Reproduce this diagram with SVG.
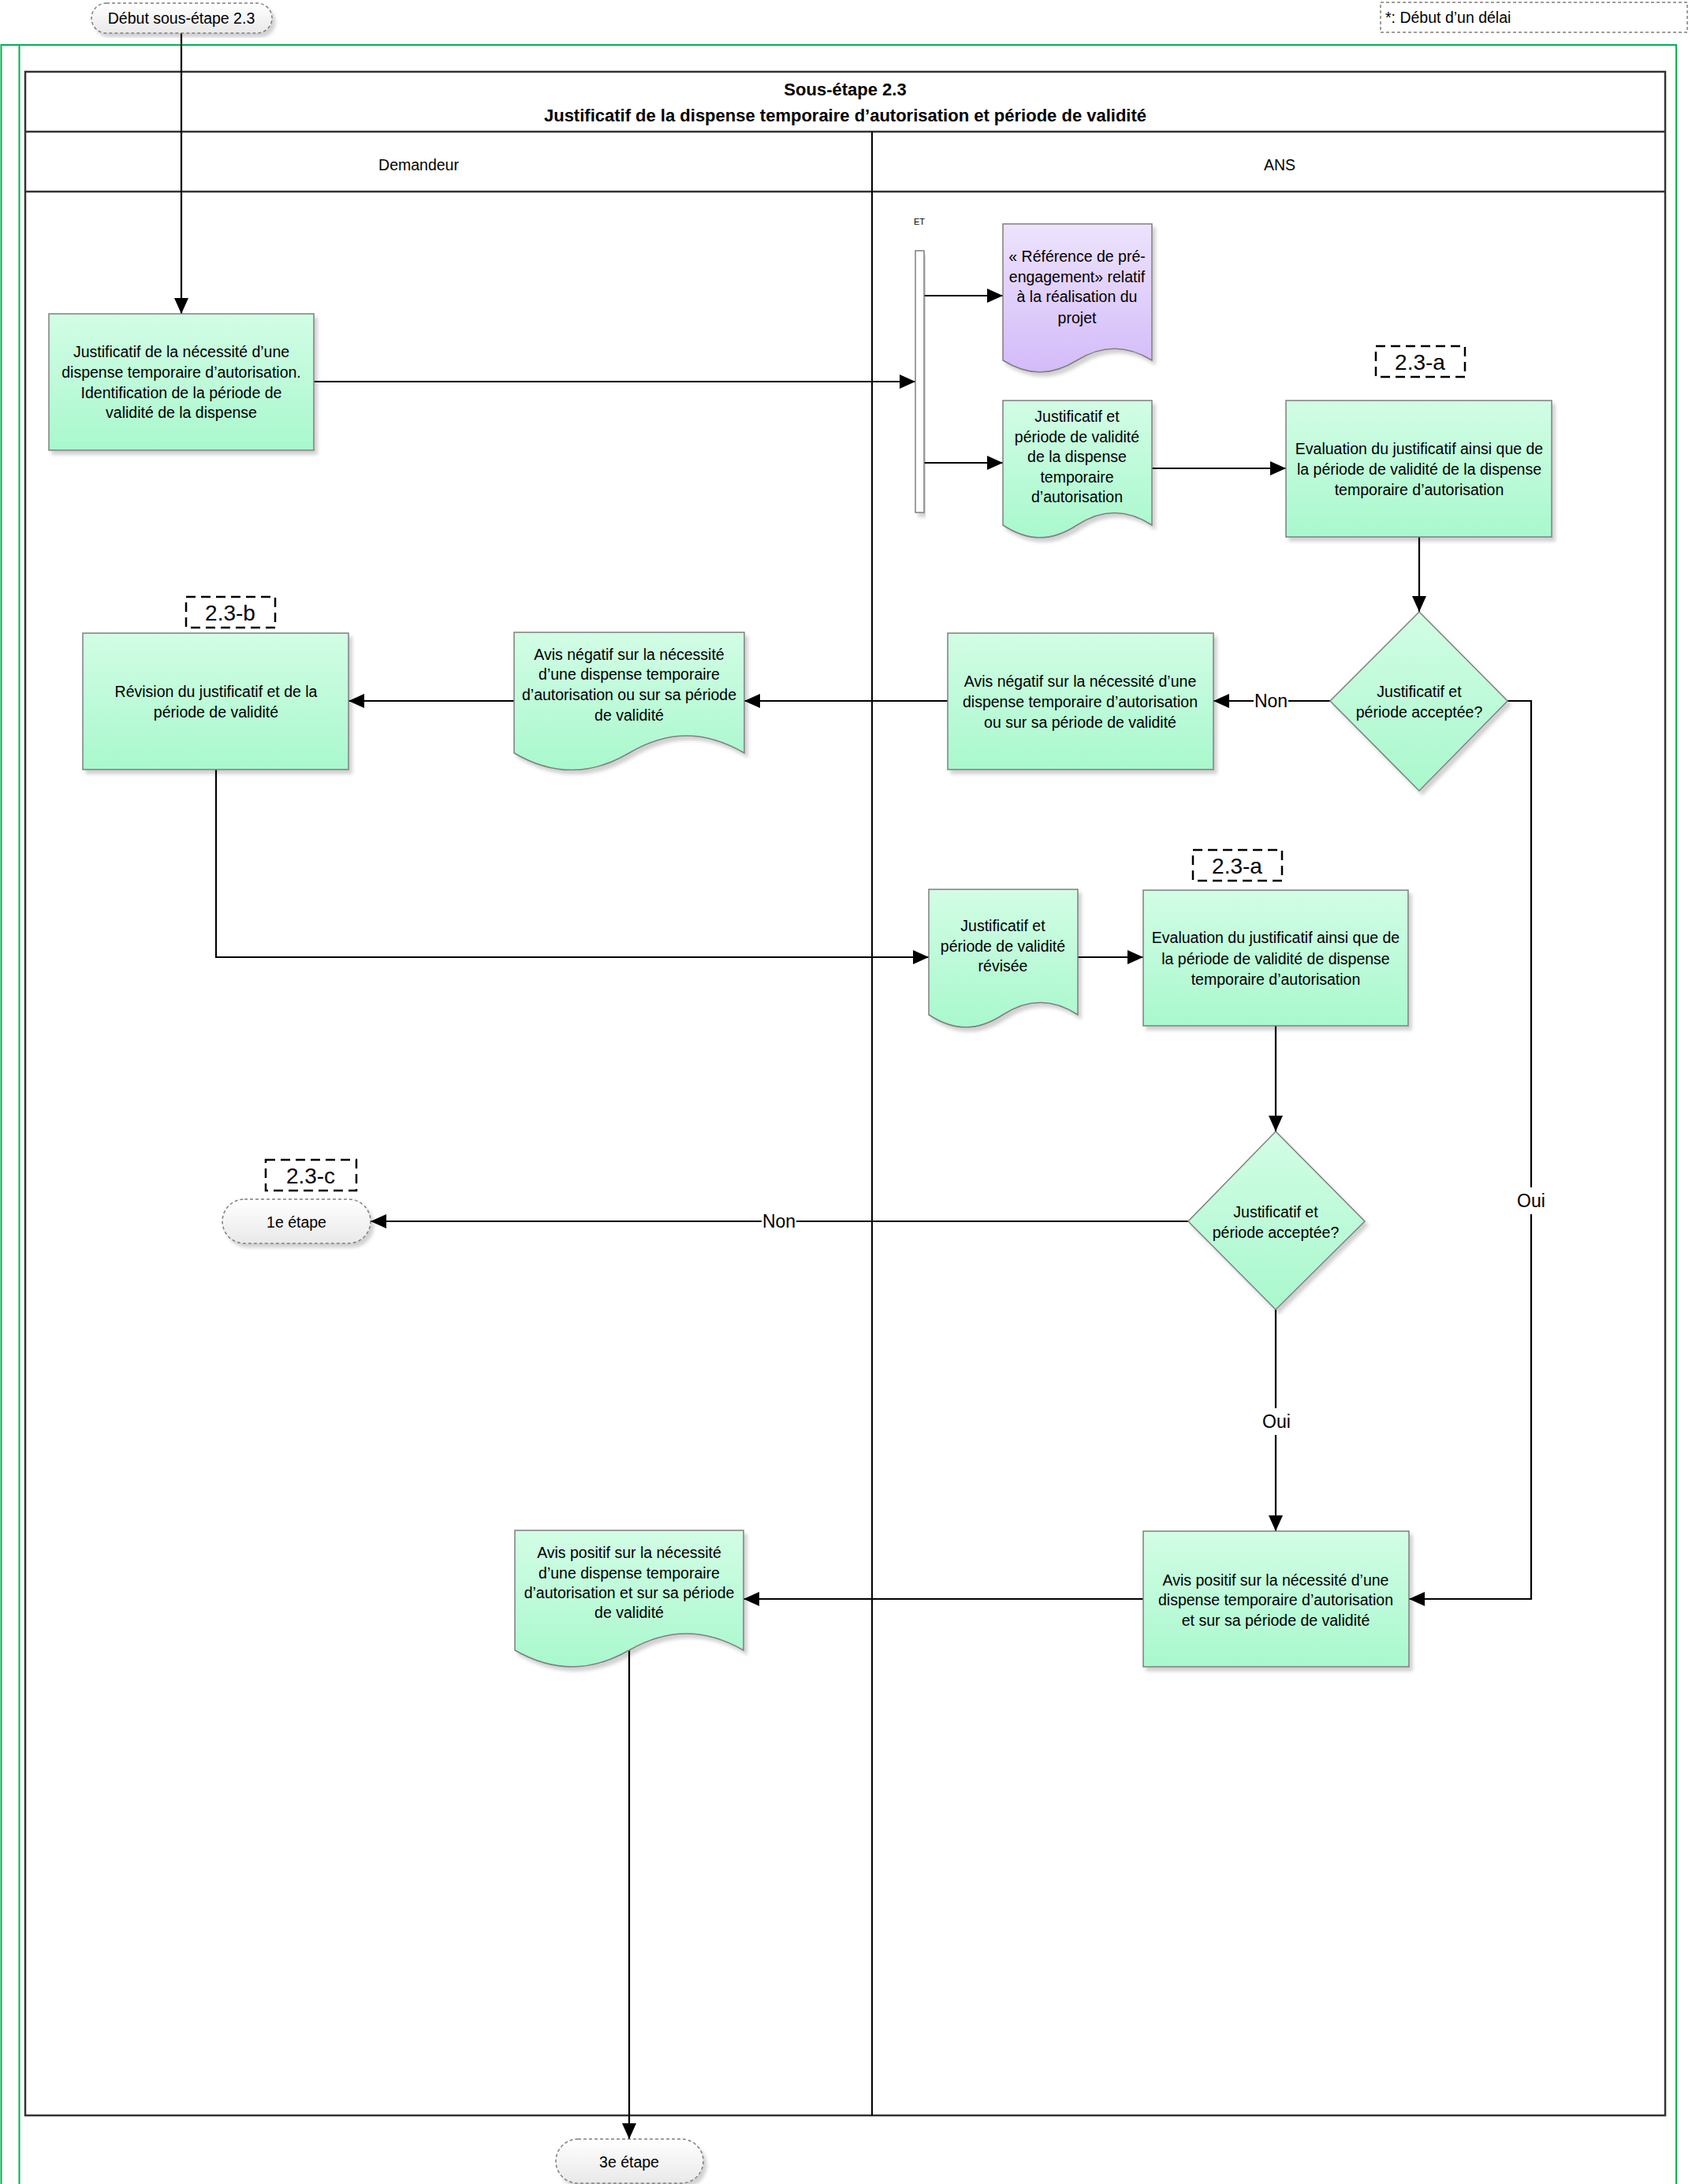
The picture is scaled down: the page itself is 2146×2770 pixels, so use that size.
<svg xmlns="http://www.w3.org/2000/svg" width="2146" height="2770" viewBox="0 0 2146 2770">
<defs>
<linearGradient id="gG" x1="0" y1="0" x2="0" y2="1"><stop offset="0" stop-color="#d2fde5"/><stop offset="1" stop-color="#a9f8cd"/></linearGradient>
<linearGradient id="gP" x1="0" y1="0" x2="0" y2="1"><stop offset="0" stop-color="#ede3fd"/><stop offset="1" stop-color="#d3bbf9"/></linearGradient>
<linearGradient id="gW" x1="0" y1="0" x2="0" y2="1"><stop offset="0" stop-color="#ffffff"/><stop offset="1" stop-color="#e9e9e9"/></linearGradient>
<filter id="sh" x="-10%" y="-10%" width="125%" height="125%"><feDropShadow dx="4" dy="5" stdDeviation="2" flood-color="#000" flood-opacity="0.18"/></filter>
<marker id="ah" viewBox="0 0 20 18" refX="20" refY="9" markerWidth="20" markerHeight="18" markerUnits="userSpaceOnUse" orient="auto"><path d="M0,0 L20,9 L0,18 z" fill="#000"/></marker>
<style>
text{font-family:'Liberation Sans',Arial,sans-serif;fill:#000}
.n{font-size:19.5px;text-anchor:middle}
.t{font-size:22px;font-weight:bold;text-anchor:middle}
.g{fill:url(#gG);stroke:#7f7f7f;stroke-width:1.5;filter:url(#sh)}
.pu{fill:url(#gP);stroke:#7f7f7f;stroke-width:1.5;filter:url(#sh)}
.pill{fill:url(#gW);stroke:#7f7f7f;stroke-width:1.5;stroke-dasharray:4 3;filter:url(#sh)}
.lbl{fill:#fff;stroke:#000;stroke-width:2.5;stroke-dasharray:12 7}
.lt{font-size:28px;text-anchor:middle}
.c{fill:none;stroke:#000;stroke-width:2.2;marker-end:url(#ah)}
.cl{font-size:23px;text-anchor:middle}
.pool{fill:none;stroke:#333;stroke-width:2.5}
.fr{fill:none;stroke:#00b050;stroke-width:2}
</style>
</defs>

<g id="frame">
<rect class="fr" x="1.5" y="57" width="2124.5" height="2760"/>
<line class="fr" x1="24.5" y1="57" x2="24.5" y2="2770"/>
</g>

<g id="pool">
<rect class="pool" x="32" y="91" width="2080" height="2592"/>
<line class="pool" x1="32" y1="167" x2="2112" y2="167"/>
<line class="pool" x1="32" y1="243" x2="2112" y2="243"/>
<line x1="1106" y1="167" x2="1106" y2="2683" stroke="#000" stroke-width="2"/>
<text class="t" x="1072" y="121">Sous-étape 2.3</text>
<text class="t" x="1072" y="154">Justificatif de la dispense temporaire d’autorisation et période de validité</text>
<text class="n" x="531" y="216">Demandeur</text>
<text class="n" x="1623" y="216">ANS</text>
</g>

<g id="legend">
<rect x="1751" y="3" width="389" height="38" fill="#fff" stroke="#7f7f7f" stroke-width="1.5" stroke-dasharray="4 3"/>
<text x="1757" y="29" style="font-size:19.5px">*: Début d’un délai</text>
</g>

<g id="connectors">
<path class="c" d="M230,42 V398"/>
<path class="c" d="M398,484 H1161"/>
<path class="c" d="M1172,375 H1272"/>
<path class="c" d="M1172,587 H1272"/>
<path class="c" d="M1461,594 H1631"/>
<path class="c" d="M1800,681 V776"/>
<path class="c" d="M1687,889 H1539"/>
<path class="c" d="M1202,889 H944"/>
<path class="c" d="M652,889 H442"/>
<path class="c" d="M274,976 V1214 H1178"/>
<path class="c" d="M1367,1214 H1450"/>
<path class="c" d="M1618,1301 V1435"/>
<path class="c" d="M1507,1549 H470"/>
<path class="c" d="M1618,1661 V1942"/>
<path class="c" d="M1912,889 H1942 V2028 H1787"/>
<path class="c" d="M1450,2028 H943"/>
<path class="c" d="M798,2093 V2713"/>
<rect x="1590" y="877" width="44" height="24" fill="#fff"/>
<text class="cl" x="1612" y="897">Non</text>
<rect x="966" y="1537" width="44" height="24" fill="#fff"/>
<text class="cl" x="988" y="1557">Non</text>
<rect x="1599" y="1786" width="40" height="34" fill="#fff"/>
<text class="cl" x="1619" y="1811">Oui</text>
<rect x="1922" y="1506" width="40" height="34" fill="#fff"/>
<text class="cl" x="1942" y="1531">Oui</text>
</g>

<g id="start">
<rect class="pill" x="116" y="4" width="229" height="38" rx="19"/>
<text class="n" x="230" y="30">Début sous-étape 2.3</text>
</g>

<g id="n_justif">
<rect class="g" x="62" y="398" width="336" height="173"/>
<text class="n"><tspan x="230" y="453">Justificatif de la nécessité d’une</tspan><tspan x="230" y="479">dispense temporaire d’autorisation.</tspan><tspan x="230" y="505">Identification de la période de</tspan><tspan x="230" y="530">validité de la dispense</tspan></text>
</g>

<g id="n_et">
<rect x="1161" y="318" width="11" height="332" fill="#fff" stroke="#7f7f7f" stroke-width="1.5" filter="url(#sh)"/>
<text x="1166" y="285" style="font-size:11px;text-anchor:middle">ET</text>
</g>

<g id="n_ref">
<path class="pu" d="M1272,284 H1461 V457 C1429,437 1398,437 1366,457 C1334,477 1304,477 1272,457 Z"/>
<text class="n"><tspan x="1366" y="332">« Référence de pré-</tspan><tspan x="1366" y="358">engagement» relatif</tspan><tspan x="1366" y="383">à la réalisation du</tspan><tspan x="1366" y="410">projet</tspan></text>
</g>

<g id="n_doc1">
<path class="g" d="M1272,508 H1461 V666 C1429,645 1398,645 1366,666 C1334,687 1304,687 1272,666 Z"/>
<text class="n"><tspan x="1366" y="535">Justificatif et</tspan><tspan x="1366" y="561">période de validité</tspan><tspan x="1366" y="586">de la dispense</tspan><tspan x="1366" y="612">temporaire</tspan><tspan x="1366" y="637">d’autorisation</tspan></text>
</g>

<g id="lbl_a1">
<rect class="lbl" x="1745" y="439" width="113" height="39"/>
<text class="lt" x="1801" y="469">2.3-a</text>
</g>

<g id="n_eval1">
<rect class="g" x="1631" y="508" width="337" height="173"/>
<text class="n"><tspan x="1800" y="576">Evaluation du justificatif ainsi que de</tspan><tspan x="1800" y="602">la période de validité de la dispense</tspan><tspan x="1800" y="628">temporaire d’autorisation</tspan></text>
</g>

<g id="n_dec1">
<path class="g" d="M1800,776 L1912,889 L1800,1003 L1687,889 Z"/>
<text class="n"><tspan x="1800" y="884">Justificatif et</tspan><tspan x="1800" y="910">période acceptée?</tspan></text>
</g>

<g id="n_neg_ans">
<rect class="g" x="1202" y="803" width="337" height="173"/>
<text class="n"><tspan x="1370" y="871">Avis négatif sur la nécessité d’une</tspan><tspan x="1370" y="897">dispense temporaire d’autorisation</tspan><tspan x="1370" y="923">ou sur sa période de validité</tspan></text>
</g>

<g id="n_neg_doc">
<path class="g" d="M652,802 H944 V955 C894,926 847,926 798,955 C749,984 701,984 652,955 Z"/>
<text class="n"><tspan x="798" y="837">Avis négatif sur la nécessité</tspan><tspan x="798" y="862">d’une dispense temporaire</tspan><tspan x="798" y="888">d’autorisation ou sur sa période</tspan><tspan x="798" y="914">de validité</tspan></text>
</g>

<g id="lbl_b">
<rect class="lbl" x="236" y="757" width="113" height="39"/>
<text class="lt" x="292" y="787">2.3-b</text>
</g>

<g id="n_revision">
<rect class="g" x="105" y="803" width="337" height="173"/>
<text class="n"><tspan x="274" y="884">Révision du justificatif et de la</tspan><tspan x="274" y="910">période de validité</tspan></text>
</g>

<g id="n_doc_rev">
<path class="g" d="M1178,1128 H1367 V1287 C1335,1266 1304,1266 1272,1287 C1240,1308 1210,1308 1178,1287 Z"/>
<text class="n"><tspan x="1272" y="1181">Justificatif et</tspan><tspan x="1272" y="1207">période de validité</tspan><tspan x="1272" y="1232">révisée</tspan></text>
</g>

<g id="lbl_a2">
<rect class="lbl" x="1513" y="1078" width="113" height="39"/>
<text class="lt" x="1569" y="1108">2.3-a</text>
</g>

<g id="n_eval2">
<rect class="g" x="1450" y="1129" width="336" height="172"/>
<text class="n"><tspan x="1618" y="1196">Evaluation du justificatif ainsi que de</tspan><tspan x="1618" y="1223">la période de validité de dispense</tspan><tspan x="1618" y="1249">temporaire d’autorisation</tspan></text>
</g>

<g id="n_dec2">
<path class="g" d="M1618,1435 L1731,1549 L1618,1661 L1507,1549 Z"/>
<text class="n"><tspan x="1618" y="1544">Justificatif et</tspan><tspan x="1618" y="1570">période acceptée?</tspan></text>
</g>

<g id="lbl_c">
<rect class="lbl" x="337" y="1471" width="115" height="39"/>
<text class="lt" x="394" y="1501">2.3-c</text>
</g>

<g id="n_etape1">
<rect class="pill" x="282" y="1521" width="188" height="56" rx="28"/>
<text class="n" x="376" y="1557">1e étape</text>
</g>

<g id="n_pos_ans">
<rect class="g" x="1450" y="1942" width="337" height="172"/>
<text class="n"><tspan x="1618" y="2011">Avis positif sur la nécessité d’une</tspan><tspan x="1618" y="2036">dispense temporaire d’autorisation</tspan><tspan x="1618" y="2062">et sur sa période de validité</tspan></text>
</g>

<g id="n_pos_doc">
<path class="g" d="M653,1941 H943 V2093 C894,2065 847,2065 798,2093 C749,2121 702,2121 653,2093 Z"/>
<text class="n"><tspan x="798" y="1976">Avis positif sur la nécessité</tspan><tspan x="798" y="2002">d’une dispense temporaire</tspan><tspan x="798" y="2027">d’autorisation et sur sa période</tspan><tspan x="798" y="2052">de validité</tspan></text>
</g>

<g id="n_etape3">
<rect class="pill" x="705" y="2713" width="187" height="56" rx="28"/>
<text class="n" x="798" y="2749">3e étape</text>
</g>
</svg>
